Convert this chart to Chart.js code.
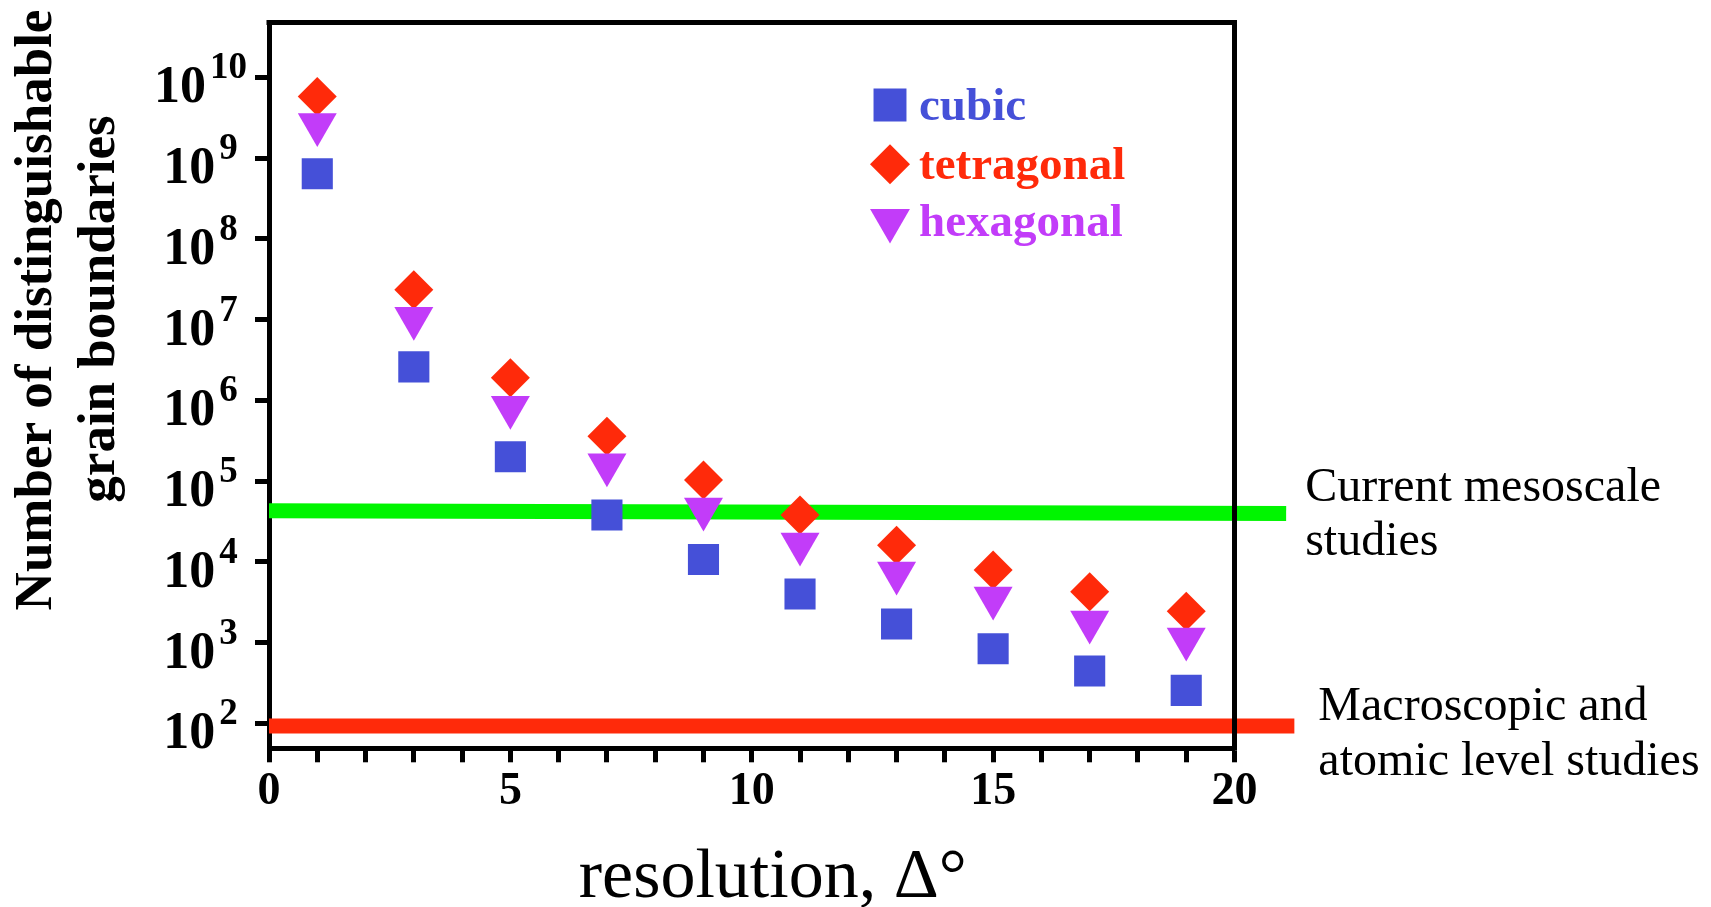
<!DOCTYPE html>
<html>
<head>
<meta charset="utf-8">
<title>Number of distinguishable grain boundaries vs. resolution</title>
<script src="https://cdn.jsdelivr.net/npm/chart.js@4.4.1/dist/chart.umd.min.js"></script>
<style>
  html, body { margin: 0; padding: 0; background: #ffffff; }
  canvas { display: block; }
</style>
</head>
<body>
<canvas id="chart" width="1711" height="907"></canvas>
<script>
// Misorientation resolution (degrees)
const resolution = [1, 3, 5, 7, 9, 11, 13, 15, 17, 19];

// Number of distinguishable grain boundaries per crystal symmetry
const cubic      = [6.4e8, 2.6e6, 2.0e5, 3.8e4, 1.07e4, 4.0e3, 1.7e3, 840, 445, 256];
const tetragonal = [5.8e9, 2.35e7, 1.9e6, 3.6e5, 1.03e5, 3.8e4, 1.6e4, 7.9e3, 4.25e3, 2.45e3];
const hexagonal  = [2.6e9, 1.04e7, 8.2e5, 1.6e5, 4.5e4, 1.66e4, 7.3e3, 3.56e3, 1.8e3, 1.11e3];

// Reference levels (drawn as thick horizontal bands)
const mesoscaleX = [0, 21.07];
const mesoscaleY = [42800, 39800];
const macroX = [0, 21.24];
const macroY = [92.6, 92.6];

// Axis ticks and text
const xLabeledTicks = [0, 5, 10, 15, 20];
const yDecades = [2, 3, 4, 5, 6, 7, 8, 9, 10];
const xTitle = 'resolution, \u0394\u00b0';
const yTitleLines = ['Number of distinguishable', 'grain boundaries'];
const mesoscaleNote = ['Current mesoscale', 'studies'];
const macroNote = ['Macroscopic and', 'atomic level studies'];
const legendOrder = ['cubic', 'tetragonal', 'hexagonal'];

const SERIF = '"Liberation Serif", "Times New Roman", Times, serif';
const BLUE = '#4550d8';
const RED = '#ff2a0a';
const PURPLE = '#c23cf9';
const GREEN = '#00f500';

const toPoints = (xs, ys) => xs.map((x, i) => ({ x: x, y: ys[i] }));

const frameAndText = {
  id: 'frameAndText',
  afterDatasetsDraw(chart) {
    // close the plot box on the top and right sides
    const { ctx, chartArea: a } = chart;
    ctx.save();
    ctx.strokeStyle = '#000';
    ctx.lineWidth = 5;
    ctx.lineCap = 'butt';
    ctx.beginPath();
    ctx.moveTo(a.left - 2.5, a.top);
    ctx.lineTo(a.right + 2.5, a.top);
    ctx.moveTo(a.right, a.top - 2.5);
    ctx.lineTo(a.right, a.bottom + 2.5);
    ctx.stroke();
    ctx.restore();
  },
  afterDraw(chart) {
    const { ctx, chartArea: a } = chart;
    const ys = chart.scales.y;
    const xs = chart.scales.x;
    ctx.save();
    ctx.fillStyle = '#000';
    ctx.textBaseline = 'alphabetic';
    ctx.textAlign = 'left';

    // y tick labels as powers of ten, each centred under the axis labels column
    const labelCenter = ys.right - 68.5;
    yDecades.forEach(e => {
      const py = ys.getPixelForValue(Math.pow(10, e));
      const expText = String(e);
      ctx.font = 'bold 37px ' + SERIF;
      const expW = ctx.measureText(expText).width;
      ctx.font = 'bold 52px ' + SERIF;
      const baseW = ctx.measureText('10').width;
      const gap = 4;
      const start = labelCenter - (baseW + gap + expW) / 2;
      ctx.fillText('10', start, py + 25);
      ctx.font = 'bold 37px ' + SERIF;
      ctx.fillText(expText, start + baseW + gap, py + 1);
    });

    // y axis title (two lines, rotated)
    ctx.textAlign = 'center';
    ctx.font = 'bold 53px ' + SERIF;
    ctx.save();
    ctx.translate(51, 310);
    ctx.rotate(-Math.PI / 2);
    ctx.fillText(yTitleLines[0], 0, 0);
    ctx.restore();
    ctx.save();
    ctx.translate(114, 309);
    ctx.rotate(-Math.PI / 2);
    ctx.fillText(yTitleLines[1], 0, 0);
    ctx.restore();

    // x axis title
    ctx.font = '70px ' + SERIF;
    ctx.textAlign = 'center';
    ctx.fillText(xTitle, (a.left + a.right) / 2 + 21, 897);

    // notes beside the reference bands
    ctx.font = '48px ' + SERIF;
    ctx.textAlign = 'left';
    const mesoY = ys.getPixelForValue(mesoscaleY[1]);
    const mesoLeft = xs.getPixelForValue(mesoscaleX[1]) + 19;
    ctx.fillText(mesoscaleNote[0], mesoLeft, mesoY - 12);
    ctx.fillText(mesoscaleNote[1], mesoLeft, mesoY + 42);
    const macroPy = ys.getPixelForValue(macroY[1]);
    const macroLeft = xs.getPixelForValue(macroX[1]) + 24;
    ctx.fillText(macroNote[0], macroLeft, macroPy - 6);
    ctx.fillText(macroNote[1], macroLeft, macroPy + 49);

    // legend inside the plot box
    const byLabel = {};
    chart.data.datasets.forEach(ds => { byLabel[ds.label] = ds; });
    const legendSizes = { cubic: 23.3, tetragonal: 20, hexagonal: 23 };
    const rowCenters = [104.5, 163.7, 220];
    legendOrder.forEach((name, i) => {
      const ds = byLabel[name];
      const cy = a.top + rowCenters[i] - 22;
      ctx.fillStyle = ds.backgroundColor;
      Chart.helpers.drawPoint(ctx, {
        pointStyle: ds.pointStyle,
        rotation: ds.pointRotation || 0,
        radius: legendSizes[name],
        borderWidth: 0
      }, 890, cy);
      ctx.font = 'bold 47px ' + SERIF;
      ctx.textAlign = 'left';
      ctx.fillText(name, 919, cy + 15);
    });
    ctx.restore();
  }
};

new Chart(document.getElementById('chart'), {
  type: 'scatter',
  data: {
    datasets: [
      {
        label: 'cubic',
        data: toPoints(resolution, cubic),
        pointStyle: 'rect',
        pointRadius: 22,
        pointBorderWidth: 0,
        backgroundColor: BLUE,
        borderColor: BLUE
      },
      {
        label: 'hexagonal',
        data: toPoints(resolution, hexagonal),
        pointStyle: 'triangle',
        pointRotation: 180,
        pointRadius: 22.5,
        pointBorderWidth: 0,
        backgroundColor: PURPLE,
        borderColor: PURPLE
      },
      {
        label: 'tetragonal',
        data: toPoints(resolution, tetragonal),
        pointStyle: 'rectRot',
        pointRadius: 19.5,
        pointBorderWidth: 0,
        backgroundColor: RED,
        borderColor: RED
      },
      {
        type: 'line',
        label: 'mesoscale',
        data: toPoints(mesoscaleX, mesoscaleY),
        borderColor: GREEN,
        backgroundColor: GREEN,
        borderWidth: 15,
        pointRadius: 0,
        fill: false,
        clip: false
      },
      {
        type: 'line',
        label: 'macro',
        data: toPoints(macroX, macroY),
        borderColor: RED,
        backgroundColor: RED,
        borderWidth: 15,
        pointRadius: 0,
        fill: false,
        clip: false
      }
    ]
  },
  options: {
    responsive: false,
    animation: false,
    events: [],
    layout: { padding: { top: 22, right: 476.5, left: 0, bottom: 0 } },
    plugins: {
      legend: { display: false },
      tooltip: { enabled: false }
    },
    scales: {
      x: {
        type: 'linear',
        min: 0,
        max: 20,
        z: 1,
        afterFit: s => { s.height = 158.7; },
        ticks: {
          stepSize: 1,
          autoSkip: false,
          maxRotation: 0,
          padding: 2,
          color: '#000',
          font: { family: SERIF, size: 46, weight: 'bold' },
          callback: v => (xLabeledTicks.includes(v) ? String(v) : '')
        },
        grid: {
          drawOnChartArea: false,
          drawTicks: true,
          tickLength: 14,
          tickWidth: 5,
          tickColor: '#000'
        },
        border: { display: true, width: 5, color: '#000' }
      },
      y: {
        type: 'logarithmic',
        min: 49.1,
        max: 4.78e10,
        z: 1,
        afterFit: s => { s.width = 269; },
        afterBuildTicks: s => { s.ticks = yDecades.map(e => ({ value: Math.pow(10, e) })); },
        ticks: { display: false },
        grid: {
          drawOnChartArea: false,
          drawTicks: true,
          tickLength: 14,
          tickWidth: 5,
          tickColor: '#000'
        },
        border: { display: true, width: 5, color: '#000' }
      }
    }
  },
  plugins: [frameAndText]
});
</script>
</body>
</html>
